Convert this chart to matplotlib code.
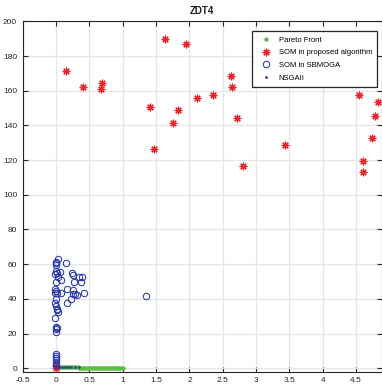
import matplotlib
matplotlib.use("Agg")
import matplotlib.pyplot as plt

plt.rcParams['font.family'] = ['Liberation Sans', 'DejaVu Sans']

# Pareto front (ZDT4) points
pf_x = [0.0, 0.025, 0.05, 0.075, 0.1, 0.125, 0.15, 0.175, 0.2, 0.225, 0.25,
        0.275, 0.3, 0.325, 0.35, 0.375, 0.4, 0.425, 0.45, 0.475, 0.5,
        0.525, 0.55, 0.575, 0.6, 0.625, 0.65, 0.675, 0.7, 0.725, 0.75,
        0.775, 0.8, 0.825, 0.85, 0.875, 0.9, 0.925, 0.95, 0.975, 1.0]
pf_y = [1.0, 0.842, 0.776, 0.726, 0.684, 0.646, 0.613, 0.582, 0.553, 0.526, 0.5,
        0.476, 0.452, 0.430, 0.408, 0.388, 0.368, 0.348, 0.329, 0.311, 0.293,
        0.275, 0.258, 0.242, 0.225, 0.209, 0.194, 0.178, 0.163, 0.149, 0.134,
        0.120, 0.106, 0.092, 0.078, 0.065, 0.051, 0.038, 0.025, 0.013, 0.0]

# SOM in proposed algorithm
som_x = [0.15, 0.405, 0.69, 0.675, 1.41, 1.63, 1.955, 2.62, 2.64, 2.35, 2.11,
         1.825, 1.75, 2.72, 1.475, 2.81, 3.43, 4.54, 4.83, 4.78, 4.74, 4.61,
         4.61, 0.0, 0.0]
som_y = [171.4, 162.0, 164.3, 161.0, 150.8, 190.0, 187.0, 168.5, 162.0, 157.7, 155.6,
         149.0, 141.4, 144.5, 126.4, 116.8, 128.9, 157.7, 153.3, 145.6, 132.9, 119.7,
         113.3, 0.0, 1.0]

# SOM in SBMOGA
sb_x = [0.03, 0.145, 0.0, 0.0, 0.0, 0.0, 0.02, -0.01, 0.06, 0.245, 0.25,
        0.34, 0.395, 0.03, 0.075, 0.0, 0.27, 0.38, -0.01, 0.0, 0.02, -0.01,
        0.17, 0.255, 0.075, 0.285, 0.31, 0.26, 0.42, 0.23, 0.16, 0.0, -0.01,
        0.0, 0.02, 0.01, 0.03, -0.01, 0.0, 0.02, 0.0, 0.0, 0.0, 0.0, 0.0,
        0.0, 0.0, 0.0, 1.35]
sb_y = [63.0, 60.9, 61.4, 60.5, 59.5, 56.2, 55.1, 54.4, 55.7, 54.7, 53.8,
        52.8, 52.4, 52.8, 50.9, 49.9, 49.6, 49.6, 45.5, 44.7, 43.6, 43.2,
        45.5, 45.1, 43.2, 42.8, 42.2, 42.6, 43.6, 39.8, 37.8, 39.8, 37.5,
        36.1, 34.2, 33.6, 32.6, 28.8, 23.6, 23.1, 22.5, 21.1, 8.4, 7.2,
        5.9, 4.6, 3.0, 1.6, 41.5]

# NSGAII
ns_x = [0.0, 0.04, 0.085, 0.135, 0.18, 0.23, 0.28, 0.34]
ns_y = [1.0, 0.9, 0.9, 0.9, 0.9, 0.9, 0.85, 0.85]

xticks = [-0.5, 0, 0.5, 1, 1.5, 2, 2.5, 3, 3.5, 4, 4.5]
xticklabels = ['-0.5', '0', '0.5', '1', '1.5', '2', '2.5', '3', '3.5', '4', '4.5']
yticks = [0, 20, 40, 60, 80, 100, 120, 140, 160, 180, 200]

fig = plt.figure(figsize=(3.82, 3.89), dpi=100)
ax = fig.add_axes([0.0594, 0.0445, 0.9393, 0.9007])

green = '#5cbf45'
red = '#e8262a'
blue = '#2438a8'

ax.plot(pf_x, pf_y, linestyle='none', marker='o', markersize=3.2,
        markeredgewidth=0, color=green, label='Pareto Front', zorder=3)
ax.plot(som_x, som_y, linestyle='none', marker=(8, 2, 0), markersize=5.5,
        markeredgewidth=0.85, color=red, label='SOM in proposed algorithm', zorder=4)
ax.plot(sb_x, sb_y, linestyle='none', marker='o', markersize=4.6,
        markerfacecolor='none', markeredgewidth=0.75, color=blue,
        label='SOM in SBMOGA', zorder=4)
ax.plot(ns_x, ns_y, linestyle='none', marker='o', markersize=2.0,
        markeredgewidth=0, color=blue, label='NSGAII', zorder=5)

ax.set_xlim(-0.5, 4.88)
ax.set_ylim(-2, 200)
ax.set_xticks(xticks)
ax.set_xticklabels(xticklabels)
ax.set_yticks(yticks)
ax.grid(True, color='#e6e6e6', linewidth=0.9)
ax.set_axisbelow(True)

ax.tick_params(axis='both', which='both', direction='in', length=3.5, width=0.8,
               labelsize=6, colors='#262626', top=True, right=True, pad=4)
for s in ax.spines.values():
    s.set_color('#262626')
    s.set_linewidth(0.8)

ax.set_title('ZDT4', fontsize=7, fontweight='bold', color='#1a1a1a', pad=5)

leg = ax.legend(loc='upper right', bbox_to_anchor=(0.9883, 0.9723),
                borderaxespad=0, fontsize=5.5, frameon=True, fancybox=False,
                edgecolor='#262626', framealpha=1, handlelength=2.2,
                handletextpad=0.6, borderpad=0.7, labelspacing=0.7,
                markerscale=1.0)
leg.get_frame().set_linewidth(0.9)

fig.savefig('out.png', dpi=100)
